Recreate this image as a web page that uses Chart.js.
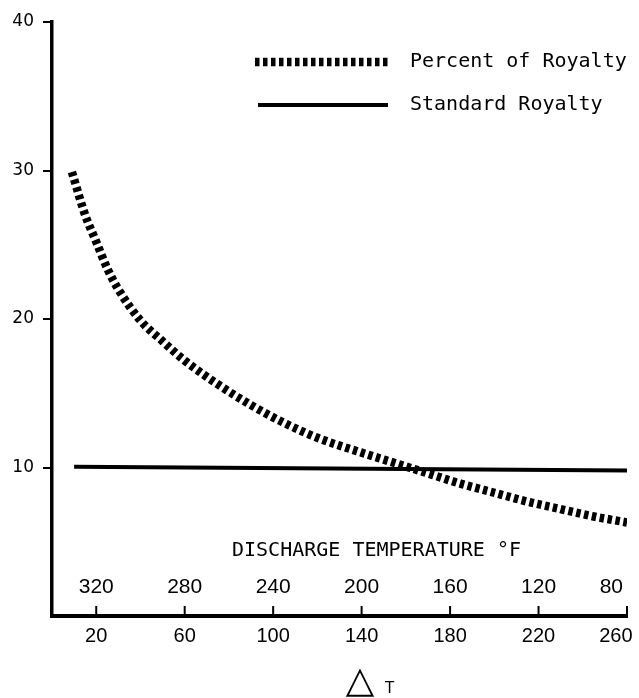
<!DOCTYPE html>
<html><head><meta charset="utf-8">
<script src="https://cdn.jsdelivr.net/npm/chart.js@4"></script>
<style>html,body{margin:0;padding:0;background:#fff}</style>
</head><body>
<canvas id="c" width="639" height="698"></canvas>
<script>
// ---- data ----
const deltaT = [9, 15, 20, 25, 30, 40, 50, 60, 75, 90, 105, 120, 140, 155, 170, 185, 200, 215, 230, 245, 260];
const percentOfRoyalty = [29.9, 27.0, 25.2, 23.4, 22.0, 19.9, 18.5, 17.2, 15.6, 14.2, 13.0, 12.0, 11.0, 10.3, 9.6, 8.9, 8.3, 7.7, 7.2, 6.7, 6.3];
const standardDeltaT = [10, 260];
const standardRoyalty = [10.05, 9.8];
const xTickValues = [20, 60, 100, 140, 180, 220, 260];
const dischargeTempLabels = ['320', '280', '240', '200', '160', '120', '80'];
const yTickValues = [10, 20, 30, 40];
const seriesNames = ['Percent of Royalty', 'Standard Royalty'];
const dischargeTitle = 'DISCHARGE TEMPERATURE \u00B0F';
const deltaSymbol = '\u25B3';
const deltaLetter = 'T';

const overlay = {
  id: 'overlay',
  afterDraw(chart) {
    const ctx = chart.ctx, a = chart.chartArea, x = chart.scales.x;
    ctx.save();
    ctx.strokeStyle = '#000';
    ctx.fillStyle = '#000';
    // inward tick marks on x axis
    ctx.lineWidth = 2;
    xTickValues.forEach(v => {
      const px = x.getPixelForValue(v);
      ctx.beginPath(); ctx.moveTo(px, a.bottom); ctx.lineTo(px, a.bottom - 10); ctx.stroke();
    });
    // discharge temperature labels
    ctx.font = '21px "Liberation Sans"';
    ctx.textAlign = 'center';
    ctx.textBaseline = 'middle';
    xTickValues.forEach((v, i) => {
      const t = dischargeTempLabels[i];
      const w = ctx.measureText(t).width;
      const px = Math.min(x.getPixelForValue(v), a.right - w / 2 - 4);
      ctx.fillText(t, px, a.bottom - 29);
    });
    // discharge title
    ctx.font = '20px "DejaVu Sans Mono"';
    ctx.textAlign = 'left';
    ctx.fillText(dischargeTitle, a.left + 180, a.bottom - 65);
    // delta T
    ctx.textBaseline = 'alphabetic';
    ctx.font = '37px "DejaVu Sans"';
    ctx.textAlign = 'center';
    ctx.fillText(deltaSymbol, 360, 692);
    ctx.font = '15px "DejaVu Sans"';
    ctx.textAlign = 'left';
    ctx.fillText(deltaLetter, 385, 693);
    // legend
    const ds = chart.data.datasets;
    const rows = [{y: 62, x0: 255}, {y: 105, x0: 258}];
    ds.forEach((d, i) => {
      const r = rows[i];
      ctx.save();
      ctx.lineWidth = d.borderWidth;
      ctx.setLineDash(d.borderDash || []);
      ctx.lineCap = 'butt';
      ctx.beginPath(); ctx.moveTo(r.x0, r.y); ctx.lineTo(388, r.y); ctx.stroke();
      ctx.restore();
      ctx.font = '20px "DejaVu Sans Mono"';
      ctx.textAlign = 'left';
      ctx.textBaseline = 'middle';
      ctx.fillText(d.label, 410, r.y);
    });
    ctx.restore();
  }
};

new Chart(document.getElementById('c'), {
  type: 'line',
  data: {
    datasets: [
      {
        label: seriesNames[0],
        data: deltaT.map((v, i) => ({x: v, y: percentOfRoyalty[i]})),
        borderColor: '#000', borderWidth: 8.5, borderDash: [4.5, 3.5],
        borderCapStyle: 'butt', pointRadius: 0, cubicInterpolationMode: 'monotone', fill: false
      },
      {
        label: seriesNames[1],
        data: standardDeltaT.map((v, i) => ({x: v, y: standardRoyalty[i]})),
        borderColor: '#000', borderWidth: 4, pointRadius: 0, fill: false
      }
    ]
  },
  options: {
    responsive: false,
    devicePixelRatio: 1,
    animation: false,
    layout: {padding: {top: 22, right: 12, left: 0, bottom: 0}},
    plugins: {legend: {display: false}, tooltip: {enabled: false}},
    scales: {
      x: {
        type: 'linear', min: 0, max: 260,
        afterBuildTicks: s => { s.ticks = xTickValues.map(v => ({value: v})); },
        afterFit: s => { s.height = 82; s.paddingRight = 0; s.paddingLeft = 0; },
        grid: {display: false, drawTicks: false},
        border: {display: true, color: '#000', width: 4},
        ticks: {color: '#000', font: {family: '"Liberation Sans"', size: 20}, padding: 8, maxRotation: 0, autoSkip: false,
                callback: v => v === xTickValues[xTickValues.length - 1] ? String(v) + '\u2007\u2007' : String(v)}
      },
      y: {
        min: 0, max: 40,
        afterBuildTicks: s => { s.ticks = [0].concat(yTickValues).map(v => ({value: v})); },
        afterFit: s => { s.width = 52; },
        grid: {display: true, drawOnChartArea: false, drawTicks: true, tickLength: 9,
               color: c => (c.tick && c.tick.value === 0) ? 'rgba(0,0,0,0)' : '#000', lineWidth: 2},
        border: {display: true, color: '#000', width: 3.5},
        ticks: {color: '#000', font: {family: '"DejaVu Sans"', size: 17}, padding: 9,
                callback: v => v === 0 ? '' : String(v)}
      }
    }
  },
  plugins: [overlay]
});
</script>
</body></html>
